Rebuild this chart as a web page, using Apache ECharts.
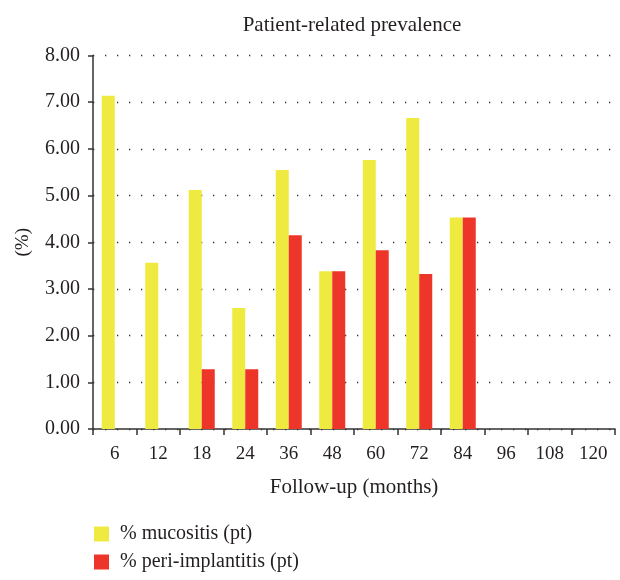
<!DOCTYPE html>
<html>
<head>
<meta charset="utf-8">
<script src="https://cdn.jsdelivr.net/npm/echarts@6/dist/echarts.min.js"></script>
<style>html,body{margin:0;padding:0;background:#fff}#c{width:620px;height:580px}</style>
</head>
<body>
<div id="c"></div>
<script>
const categories = ['6','12','18','24','36','48','60','72','84','96','108','120'];
const mucositis = [7.14, 3.56, 5.12, 2.59, 5.55, 3.38, 5.76, 6.66, 4.53, null, null, null];
const periImplantitis = [null, null, 1.28, 1.28, 4.15, 3.38, 3.83, 3.32, 4.53, null, null, null];
const yTicks = [0, 1, 2, 3, 4, 5, 6, 7, 8];

const font = '"Liberation Serif", serif';
const txt = '#231f20';
const chart = echarts.init(document.getElementById('c'));
chart.setOption({
  animation: false,
  textStyle: { fontFamily: font, color: txt },
  title: {
    text: 'Patient-related prevalence',
    left: 347, top: 10, textAlign: 'center',
    textStyle: { fontFamily: font, fontSize: 21, fontWeight: 'normal', color: txt }
  },
  legend: {
    orient: 'vertical', left: 94, top: 524, padding: 0, itemGap: 8, height: 56,
    itemWidth: 15, itemHeight: 15, icon: 'rect',
    formatter: '{t|{name}}',
    textStyle: { fontFamily: font, fontSize: 20, color: txt,
      rich: { t: { fontFamily: font, fontSize: 20, color: txt, padding: [0, 0, 0, 6] } } },
    data: ['% mucositis (pt)', '% peri-implantitis (pt)']
  },
  grid: { left: 93, right: 5, top: 55.5, bottom: 151, containLabel: false },
  xAxis: {
    type: 'category', data: categories,
    name: 'Follow-up (months)', nameLocation: 'middle', nameGap: 48,
    nameTextStyle: { fontFamily: font, fontSize: 21, color: txt },
    axisLine: { show: true, lineStyle: { color: '#333', width: 1.5 } },
    axisTick: { show: true, alignWithLabel: false, length: 6, lineStyle: { color: '#333', width: 1.5 } },
    axisLabel: { fontFamily: font, fontSize: 19, color: txt, margin: 16 }
  },
  yAxis: {
    type: 'value', min: 0, max: 8, interval: 1,
    name: '(%)', nameLocation: 'middle', nameGap: 60, nameRotate: 90,
    nameTextStyle: { fontFamily: font, fontSize: 19, color: txt },
    axisLine: { show: true, lineStyle: { color: '#333', width: 1.5 } },
    axisTick: { show: true, length: 5, lineStyle: { color: '#333', width: 1.5 } },
    axisLabel: { fontFamily: font, fontSize: 20, color: txt, margin: 13,
      formatter: v => yTicks.includes(v) ? v.toFixed(2) : '' },
    splitLine: { show: true, lineStyle: { color: '#333', width: 1.3, type: [1.3, 10.7] } }
  },
  series: [
    { name: '% mucositis (pt)', type: 'bar', data: mucositis, barWidth: 13, barGap: '0%',
      itemStyle: { color: '#EFEA3F' } },
    { name: '% peri-implantitis (pt)', type: 'bar', data: periImplantitis, barWidth: 13, barGap: '0%',
      itemStyle: { color: '#EE3529' } }
  ]
});
</script>
</body>
</html>
